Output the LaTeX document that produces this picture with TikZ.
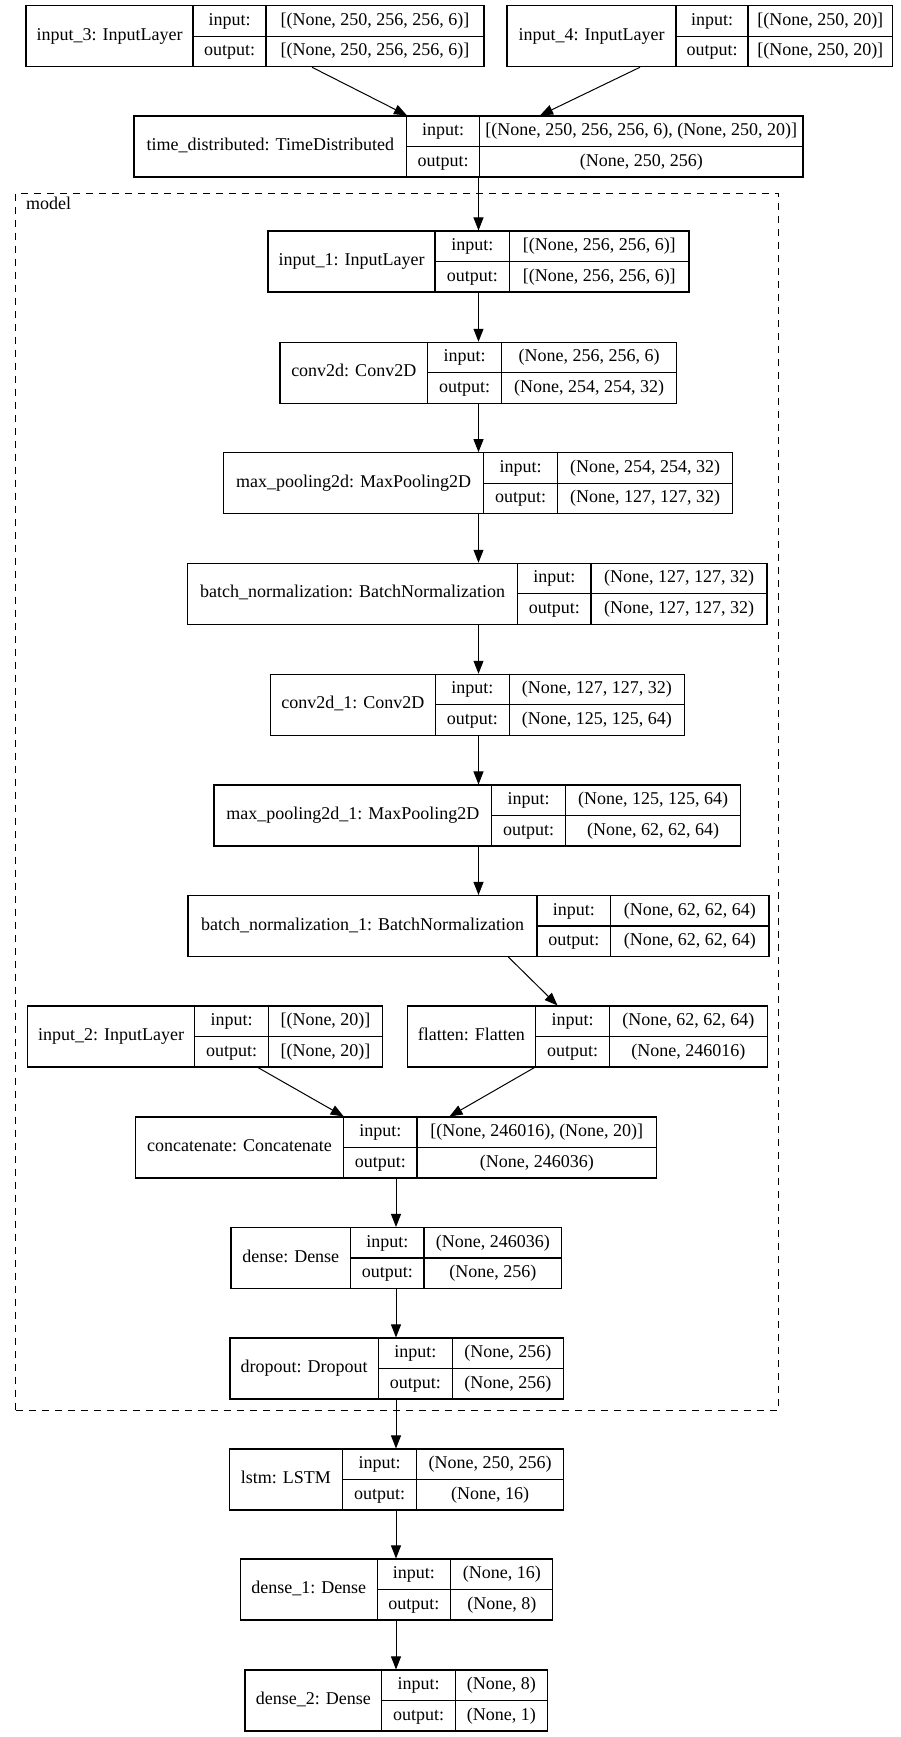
\documentclass[tikz,border=0pt]{standalone}
\usepackage{fontspec}
\setmainfont{Liberation Serif}
\newfontfamily\tnrfont{Liberation Serif}
\usetikzlibrary{arrows.meta,fit}
\tikzset{
  boxline/.style={draw=black,line width=1.1pt},
  txt/.style={inner sep=0pt,text height=12pt,text depth=4pt,font=\tnrfont\fontsize{18}{20}\selectfont},
  arr/.style={line width=1pt,-{Triangle[length=13pt,width=10pt]}},
  grp/.style={draw=black,line width=1pt,dash pattern=on 7pt off 6pt},
}
% name, left, c1, c2, right, top, label, input, output
\newcommand\layerbox[9]{%
  \node[boxline,fit={(#2,#6) (#5,{#6+61})},inner sep=0pt] (#1) {};
  \draw[boxline] (#3,#6) -- (#3,{#6+61});
  \draw[boxline] (#4,#6) -- (#4,{#6+61});
  \draw[boxline] (#3,{#6+30.5}) -- (#5,{#6+30.5});
  \node[txt] (#1-lab) at ({(#2+#3)/2},{#6+30.5}) {#7};
  \node[txt] (#1-ik) at ({(#3+#4)/2},{#6+15.5}) {input:};
  \node[txt] (#1-ok) at ({(#3+#4)/2},{#6+46}) {output:};
  \node[txt] (#1-iv) at ({(#4+#5)/2},{#6+15.5}) {#8};
  \node[txt] (#1-ov) at ({(#4+#5)/2},{#6+46}) {#9};
}
\begin{document}
\begin{tikzpicture}[x=1pt,y=-1pt]
\useasboundingbox (0,0) rectangle (901,1737);
% group
\node[grp,fit={(15.6,193) (778,1410.7)},inner sep=0pt] (model) {};
\node[txt,anchor=west] (modellab) at (26,205) {model};

\layerbox{in3}{26}{193}{266}{484}{5.7}{input\_3: InputLayer}{[(None, 250, 256, 256, 6)]}{[(None, 250, 256, 256, 6)]}
\layerbox{in4}{507}{676}{748}{892.5}{5.7}{input\_4: InputLayer}{[(None, 250, 20)]}{[(None, 250, 20)]}
\layerbox{td}{134}{406.7}{479.5}{803}{116}{time\_distributed: TimeDistributed}{[(None, 250, 256, 256, 6), (None, 250, 20)]}{(None, 250, 256)}
\layerbox{in1}{268}{435}{509.5}{689}{231}{input\_1: InputLayer}{[(None, 256, 256, 6)]}{[(None, 256, 256, 6)]}
\layerbox{cv}{280}{427.5}{501.5}{676.5}{342.3}{conv2d: Conv2D}{(None, 256, 256, 6)}{(None, 254, 254, 32)}
\layerbox{mp}{223.6}{483.5}{557.5}{732.5}{452.7}{max\_pooling2d: MaxPooling2D}{(None, 254, 254, 32)}{(None, 127, 127, 32)}
\layerbox{bn}{187.5}{517.5}{591}{767}{563.3}{batch\_normalization: BatchNormalization}{(None, 127, 127, 32)}{(None, 127, 127, 32)}
\layerbox{cva}{270.4}{435.4}{509.2}{684.6}{674.3}{conv2d\_1: Conv2D}{(None, 127, 127, 32)}{(None, 125, 125, 64)}
\layerbox{mpa}{214}{491.7}{565.4}{740.8}{785}{max\_pooling2d\_1: MaxPooling2D}{(None, 125, 125, 64)}{(None, 62, 62, 64)}
\layerbox{bna}{188}{537}{610.6}{769}{895.5}{batch\_normalization\_1: BatchNormalization}{(None, 62, 62, 64)}{(None, 62, 62, 64)}
\layerbox{in2}{27.7}{194.7}{268.6}{382.4}{1006}{input\_2: InputLayer}{[(None, 20)]}{[(None, 20)]}
\layerbox{fl}{407.3}{535.5}{609.5}{767.2}{1006}{flatten: Flatten}{(None, 62, 62, 64)}{(None, 246016)}
\layerbox{cc}{135.5}{343.5}{417}{656.5}{1117}{concatenate: Concatenate}{[(None, 246016), (None, 20)]}{(None, 246036)}
\layerbox{de}{231}{350.5}{424}{561.8}{1227.5}{dense: Dense}{(None, 246036)}{(None, 256)}
\layerbox{dr}{230}{378.4}{452.3}{563.3}{1338}{dropout: Dropout}{(None, 256)}{(None, 256)}
\layerbox{ls}{229.3}{342.6}{416.5}{563.8}{1449}{lstm: LSTM}{(None, 250, 256)}{(None, 16)}
\layerbox{dea}{240.3}{377.2}{450.6}{552.9}{1559}{dense\_1: Dense}{(None, 16)}{(None, 8)}
\layerbox{deb}{245}{381.9}{455.2}{547.6}{1670}{dense\_2: Dense}{(None, 8)}{(None, 1)}

% connectors
\draw[arr] (in3.south -| 312,0) -- (td.north -| 407,0);
\draw[arr] (in4.south -| 640,0) -- (td.north -| 540,0);
\draw[arr] (td.south -| 478.5,0) -- (in1.north -| 478.5,0);
\draw[arr] (in1.south -| 478.5,0) -- (cv.north -| 478.5,0);
\draw[arr] (cv.south -| 478.5,0) -- (mp.north -| 478.5,0);
\draw[arr] (mp.south -| 478.5,0) -- (bn.north -| 478.5,0);
\draw[arr] (bn.south -| 478.5,0) -- (cva.north -| 478.5,0);
\draw[arr] (cva.south -| 478.5,0) -- (mpa.north -| 478.5,0);
\draw[arr] (mpa.south -| 478.5,0) -- (bna.north -| 478.5,0);
\draw[arr] (bna.south -| 508.4,0) -- (fl.north -| 557.5,0);
\draw[arr] (in2.south -| 258,0) -- (cc.north -| 343.7,0);
\draw[arr] (fl.south -| 534.4,0) -- (cc.north -| 449.5,0);
\draw[arr] (cc.south -| 396,0) -- (de.north -| 396,0);
\draw[arr] (de.south -| 396,0) -- (dr.north -| 396,0);
\draw[arr] (dr.south -| 396,0) -- (ls.north -| 396,0);
\draw[arr] (ls.south -| 396,0) -- (dea.north -| 396,0);
\draw[arr] (dea.south -| 396,0) -- (deb.north -| 396,0);
\end{tikzpicture}
\end{document}
